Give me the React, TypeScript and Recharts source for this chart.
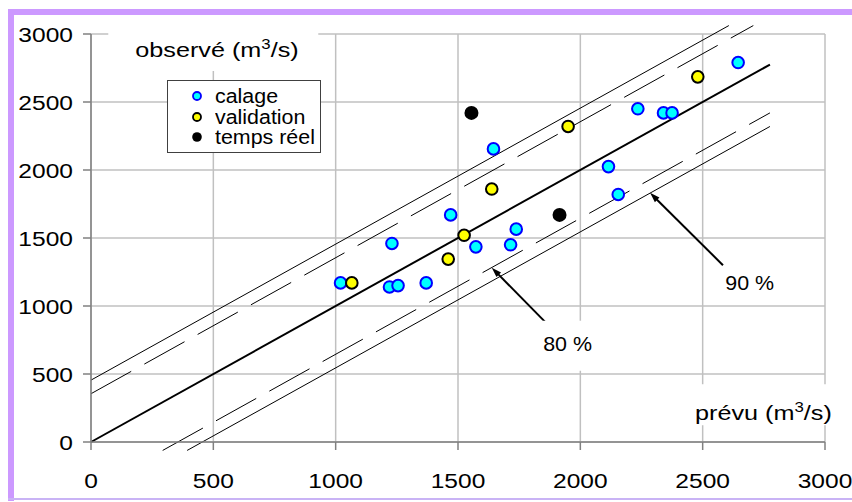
import React from "react";
import {
  ScatterChart,
  Scatter,
  XAxis,
  YAxis,
  CartesianGrid,
  ReferenceLine,
  ReferenceDot,
  Legend,
} from "recharts";

// ---------- data ----------
const calageX = [1020, 1220, 1255, 1370, 1230, 1470, 1573, 1715, 1738, 1645, 2115, 2155, 2235, 2340, 2375, 2645];
const calageY = [1170, 1140, 1150, 1170, 1460, 1670, 1435, 1450, 1565, 2155, 2025, 1820, 2450, 2420, 2420, 2790];

const validationX = [1066, 1460, 1525, 1638, 1950, 2480];
const validationY = [1170, 1345, 1520, 1860, 2320, 2685];

const tempsReelX = [1555, 1915];
const tempsReelY = [2420, 1670];

const axisTicks = [0, 500, 1000, 1500, 2000, 2500, 3000];

// model line y = x and bands (80 % dashed, 90 % solid)
const lineXMax = 2775;
const bandYMax = 3062;
const bandYMin = -62;
const band80 = 355;
const band90 = 455;

// annotations (data coordinates)
const annotationLabels = ["80 %", "90 %"];
const labelPositions = [
  [1948, 671],
  [2692, 1116],
];
const arrowTails = [
  [1856, 883],
  [2583, 1300],
];
const arrowTips = [
  [1638, 1282],
  [2285, 1832],
];

const titleY = "observé (m";
const titleX = "prévu (m";
const titleYPos = [181, 2831];
const titleXPos = [2469, 160];

const seriesNames = ["calage", "validation", "temps réel"];
const seriesFill = ["#00FFFF", "#FFFF00", "#000000"];
const seriesStroke = ["#0000FF", "#000000", "#000000"];

const toPoints = (xs: number[], ys: number[]) => xs.map((x, i) => ({ x, y: ys[i] }));
const calageData = toPoints(calageX, calageY);
const validationData = toPoints(validationX, validationY);
const tempsReelData = toPoints(tempsReelX, tempsReelY);

const FONT = '"Liberation Sans", Arial, Helvetica, sans-serif';

// ---------- helpers ----------
const makeMarker = (fill: string, stroke: string, r: number, sw: number) => (props: any) => {
  const { cx, cy } = props;
  if (cx == null || cy == null) return <g />;
  return <circle cx={cx} cy={cy} r={r} fill={fill} stroke={stroke} strokeWidth={sw} />;
};

const YTick = (props: any) => {
  const { x, y, payload } = props;
  return (
    <text
      transform={`translate(${x},${y}) scale(1.17,1)`}
      textAnchor="end"
      dy="0.36em"
      fontSize={21}
      fontFamily={FONT}
      fill="#000"
    >
      {payload.value}
    </text>
  );
};

const XTick = (props: any) => {
  const { x, y, payload } = props;
  return (
    <text
      transform={`translate(${x},${y + 35.5}) scale(1.17,1)`}
      textAnchor="middle"
      fontSize={21}
      fontFamily={FONT}
      fill="#000"
    >
      {payload.value}
    </text>
  );
};

const axisTitleShape = (text: string, box: [number, number, number, number]) => (props: any) => {
  const { cx, cy } = props;
  if (cx == null || cy == null) return <g />;
  const [bx0, by0, bx1, by1] = box;
  return (
    <g>
      <rect x={cx + bx0} y={cy + by0} width={bx1 - bx0} height={by1 - by0} fill="#fff" />
      <text
        transform={`translate(${cx},${cy}) scale(1.2,1)`}
        fontSize={21}
        fontFamily={FONT}
        fill="#000"
      >
        <tspan>{text}</tspan>
        <tspan dy={-8} fontSize={14}>3</tspan>
        <tspan dy={8}>/s)</tspan>
      </text>
    </g>
  );
};

const pctLabelShape = (text: string, box: [number, number, number, number]) => (props: any) => {
  const { cx, cy } = props;
  if (cx == null || cy == null) return <g />;
  const [bx0, by0, bx1, by1] = box;
  return (
    <g>
      <rect x={cx + bx0} y={cy + by0} width={bx1 - bx0} height={by1 - by0} fill="#fff" />
      <text
        transform={`translate(${cx},${cy}) scale(1.02,1)`}
        textAnchor="middle"
        fontSize={21}
        fontFamily={FONT}
        fill="#000"
      >
        {text}
      </text>
    </g>
  );
};

const arrowShape = (props: any) => {
  const { x1, y1, x2, y2 } = props;
  if ([x1, y1, x2, y2].some((v) => v == null || isNaN(v))) return <g />;
  const dx = x2 - x1;
  const dy = y2 - y1;
  const len = Math.sqrt(dx * dx + dy * dy) || 1;
  const ux = dx / len;
  const uy = dy / len;
  const L = 10;
  const W = 3.2;
  const bx = x2 - ux * L;
  const by = y2 - uy * L;
  const p1 = `${x2},${y2}`;
  const p2 = `${bx - uy * W},${by + ux * W}`;
  const p3 = `${bx + uy * W},${by - ux * W}`;
  return (
    <g>
      <line x1={x1} y1={y1} x2={bx + ux * 2} y2={by + uy * 2} stroke="#000" strokeWidth={2} />
      <polygon points={`${p1} ${p2} ${p3}`} fill="#000" />
    </g>
  );
};

const LegendBox = () => (
  <div
    style={{
      position: "relative",
      width: 154,
      height: 73,
      boxSizing: "border-box",
      border: "1px solid #404040",
      background: "#fff",
      fontFamily: FONT,
    }}
  >
    {seriesNames.map((name, i) => (
      <div
        key={name}
        style={{
          position: "absolute",
          left: 0,
          top: 15 + i * 20.5 - 12,
          height: 24,
          width: 152,
        }}
      >
        <svg width={40} height={24} style={{ position: "absolute", left: 0, top: 0 }}>
          <circle
            cx={29}
            cy={12}
            r={i === 2 ? 4.8 : 4}
            fill={seriesFill[i]}
            stroke={seriesStroke[i]}
            strokeWidth={i === 2 ? 0 : 1.8}
          />
        </svg>
        <span
          style={{
            position: "absolute",
            left: 47,
            top: 0,
            lineHeight: "24px",
            fontSize: 20,
            color: "#000",
            whiteSpace: "nowrap",
            transform: "scaleX(1.07)",
            transformOrigin: "left center",
          }}
        >
          {name}
        </span>
      </div>
    ))}
  </div>
);

export default function App() {
  const lineCommon = { ifOverflow: "visible" as const, stroke: "#000" };
  return (
    <div style={{ position: "absolute", left: 0, top: 0, width: 852, height: 502, background: "#fff" }}>
      {/* purple frame */}
      <div style={{ position: "absolute", left: 8, top: 9, width: 844, height: 6, background: "#CC99FF" }} />
      <div style={{ position: "absolute", left: 8, top: 9, width: 6, height: 492, background: "#CC99FF" }} />
      <div style={{ position: "absolute", left: 8, top: 498, width: 844, height: 2, background: "#C9B3F5" }} />
      <div style={{ position: "absolute", left: 0, top: 0 }}>
        <ScatterChart
          width={852}
          height={502}
          margin={{ top: 34, right: 27, bottom: 30, left: 31 }}
          style={{ fontFamily: FONT }}
        >
          <CartesianGrid stroke="#c0c0c0" strokeWidth={1.5} />
          <XAxis
            type="number"
            dataKey="x"
            domain={[0, 3000]}
            ticks={axisTicks}
            interval={0}
            height={30}
            tickSize={8}
            axisLine={{ stroke: "#808080", strokeWidth: 1.5 }}
            tickLine={{ stroke: "#808080", strokeWidth: 1.5 }}
            tick={<XTick />}
          />
          <YAxis
            type="number"
            dataKey="y"
            domain={[0, 3000]}
            ticks={axisTicks}
            interval={0}
            width={60}
            tickSize={8}
            tickMargin={10}
            axisLine={{ stroke: "#808080", strokeWidth: 1.5 }}
            tickLine={{ stroke: "#808080", strokeWidth: 1.5 }}
            tick={<YTick />}
          />

          {/* axis titles and annotation labels (white boxes) */}
          <ReferenceDot
            x={titleYPos[0]}
            y={titleYPos[1]}
            ifOverflow="visible"
            shape={axisTitleShape(titleY, [-27, -42, 183, 14])}
          />
          <ReferenceDot
            x={titleXPos[0]}
            y={titleXPos[1]}
            ifOverflow="visible"
            shape={axisTitleShape(titleX, [-8, -36, 140, 5])}
          />
          {annotationLabels.map((lab, i) => (
            <ReferenceDot
              key={lab}
              x={labelPositions[i][0]}
              y={labelPositions[i][1]}
              ifOverflow="visible"
              shape={pctLabelShape(lab, i === 0 ? [-32, -30, 33, 20] : [-28, -24, 28, 12])}
            />
          ))}

          {/* model line and bands */}
          <ReferenceLine {...lineCommon} strokeWidth={2} segment={[{ x: 0, y: 0 }, { x: lineXMax, y: lineXMax }]} />
          <ReferenceLine
            {...lineCommon}
            strokeWidth={1}
            strokeDasharray="46 15"
            segment={[{ x: 0, y: band80 }, { x: bandYMax - band80, y: bandYMax }]}
          />
          <ReferenceLine
            {...lineCommon}
            strokeWidth={1}
            segment={[{ x: 0, y: band90 }, { x: bandYMax - band90, y: bandYMax }]}
          />
          <ReferenceLine
            {...lineCommon}
            strokeWidth={1}
            strokeDasharray="46 15"
            segment={[{ x: bandYMin + band80, y: bandYMin }, { x: lineXMax, y: lineXMax - band80 }]}
          />
          <ReferenceLine
            {...lineCommon}
            strokeWidth={1}
            segment={[{ x: bandYMin + band90, y: bandYMin }, { x: lineXMax, y: lineXMax - band90 }]}
          />

          {/* arrows */}
          {annotationLabels.map((lab, i) => (
            <ReferenceLine
              key={"arrow" + lab}
              ifOverflow="visible"
              segment={[
                { x: arrowTails[i][0], y: arrowTails[i][1] },
                { x: arrowTips[i][0], y: arrowTips[i][1] },
              ]}
              shape={arrowShape}
            />
          ))}

          <Scatter
            name={seriesNames[0]}
            data={calageData}
            fill={seriesFill[0]}
            isAnimationActive={false}
            shape={makeMarker(seriesFill[0], seriesStroke[0], 5.8, 2)}
          />
          <Scatter
            name={seriesNames[1]}
            data={validationData}
            fill={seriesFill[1]}
            isAnimationActive={false}
            shape={makeMarker(seriesFill[1], seriesStroke[1], 5.8, 2)}
          />
          <Scatter
            name={seriesNames[2]}
            data={tempsReelData}
            fill={seriesFill[2]}
            isAnimationActive={false}
            shape={makeMarker(seriesFill[2], seriesStroke[2], 7, 0)}
          />

          <Legend
            layout="vertical"
            align="center"
            verticalAlign="middle"
            content={() => <LegendBox />}
            wrapperStyle={{ left: 167, top: 80, width: 154, height: 73 }}
          />
        </ScatterChart>
      </div>
    </div>
  );
}
